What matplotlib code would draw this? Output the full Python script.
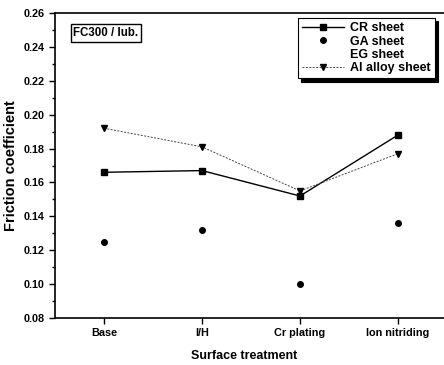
import matplotlib
matplotlib.use("Agg")
import matplotlib.pyplot as plt
import numpy as np

plt.rcParams['font.family'] = ['Liberation Sans', 'DejaVu Sans']
plt.rcParams['font.weight'] = 'bold'

treatments = ["Base", "I/H", "Cr plating", "Ion nitriding"]
cr_sheet = [0.166, 0.167, 0.152, 0.188]
ga_sheet = [0.125, 0.132, 0.100, 0.136]
eg_sheet = []   # listed in legend, no data shown
al_sheet = [0.192, 0.181, 0.155, 0.177]

x = np.arange(len(treatments))

fig = plt.figure(figsize=(4.44, 3.65), dpi=100)
ax = fig.add_axes([55 / 444, 47 / 365, 392 / 444, 305 / 365])

ax.plot(x, cr_sheet, '-s', color='black', lw=1.0, ms=4.5, label='CR sheet')
ax.plot(x, ga_sheet, 'o', color='black', ms=4, label='GA sheet')
ax.plot([], [], ' ', label='EG sheet')
ax.plot(x, al_sheet, linestyle=(0, (2, 1.5)), marker='v', color='#444444',
        markerfacecolor='black', markeredgecolor='black', lw=0.7, ms=5,
        label='Al alloy sheet')

ax.set_xlim(-0.5, 3.5)
ax.set_ylim(0.08, 0.26)
ax.set_xticks(x)
ax.set_xticklabels(treatments)
ax.set_yticks(np.arange(0.08, 0.261, 0.02))
ax.set_yticks(np.arange(0.09, 0.26, 0.02), minor=True)
ax.yaxis.set_major_formatter(matplotlib.ticker.FormatStrFormatter('%.2f'))
ax.tick_params(axis='both', which='major', direction='out', length=4, width=1,
               labelsize=7.8, top=False, right=False)
ax.tick_params(axis='y', which='minor', direction='out', length=2.5, width=1)
for s in ax.spines.values():
    s.set_linewidth(1.2)

ax.set_xlabel('Surface treatment', fontsize=9, fontweight='bold')
ax.xaxis.set_label_coords(0.483, -0.105)
ax.set_ylabel('Friction coefficient', fontsize=10.5, fontweight='bold', labelpad=4)

ax.text(0.047, 0.955, 'FC300 / lub.', transform=ax.transAxes, fontsize=8.3,
        fontweight='bold', va='top', ha='left',
        bbox=dict(boxstyle='square,pad=0.25', fc='white', ec='black', lw=1))

leg = ax.legend(loc='upper right', bbox_to_anchor=(0.969, 0.984), fontsize=9,
                frameon=True, fancybox=False, edgecolor='black', framealpha=1,
                handlelength=3.3, handletextpad=0.5, borderpad=0.35,
                labelspacing=0.1, borderaxespad=0.0,
                shadow={'color': 'black', 'alpha': 1, 'ox': 2.5, 'oy': -2.5})
leg.get_frame().set_linewidth(0.8)

fig.savefig('out.png', dpi=100)
